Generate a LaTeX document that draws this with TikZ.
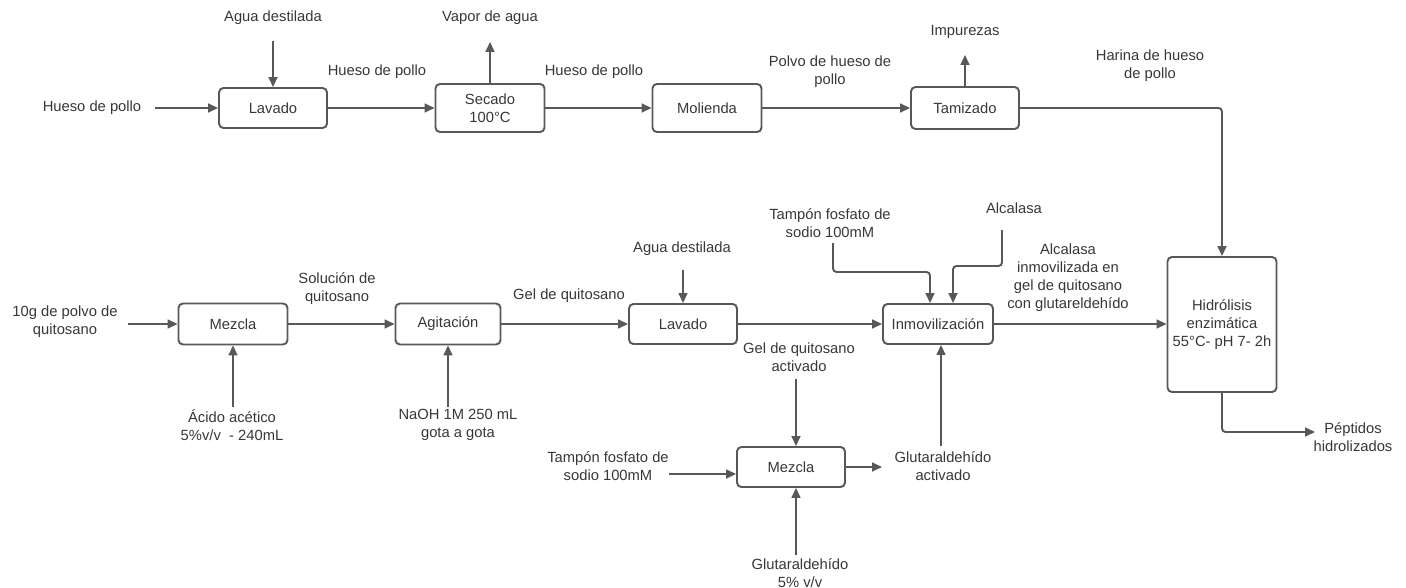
\documentclass[tikz,border=0pt]{standalone}
\usepackage{fontspec}
\setmainfont{Liberation Sans}
\usetikzlibrary{arrows.meta}
\usetikzlibrary{positioning}
\definecolor{lgray}{RGB}{88, 88, 88}
\definecolor{tgray}{RGB}{55, 55, 55}

\tikzset{
  proc/.style={draw=lgray, line width=1.1pt, rounded corners=2.5pt, minimum width=2.16cm, minimum height=0.8cm, align=center, text=tgray, inner sep=1pt},
  lbl/.style={align=center, text=tgray, inner sep=0pt},
  flow/.style={lgray, line width=1.1pt, -{Triangle[length=5.6pt, width=5pt]}, rounded corners=2pt},
}

\begin{document}
\begin{tikzpicture}[x=0.02cm, y=-0.02cm, every node/.style={font=\fontsize{8.4}{10.2}\selectfont}]
    \useasboundingbox (0, 0) rectangle (1406, 588);

    % hueso de pollo
    \node [proc] (lav1) at (273, 108) {Lavado};
    \node [proc, minimum height=0.96cm, minimum width=2.18cm] (sec) at (490, 108) {Secado\\100°C};
    \node [proc, minimum height=0.96cm, minimum width=2.18cm] (mol) at (707, 108) {Molienda};
    \node [proc, minimum height=0.84cm] (tam) at (965, 108) {Tamizado};
    \node [proc, minimum height=2.7cm, minimum width=2.18cm] (hid) at (1222, 324.5) {Hidrólisis\\enzimática\\55°C- pH 7- 2h};

    \node [lbl] (hueso) at (92, 108) {Hueso de pollo};
    \node [lbl] (agua1) at (273, 18) {Agua destilada};
    \node [lbl] (hueso2) at (377, 72) {Hueso de pollo};
    \node [lbl] (vapor) at (490, 18) {Vapor de agua};
    \node [lbl] (hueso3) at (594, 72) {Hueso de pollo};
    \node [lbl] (polvo) at (830, 72) {Polvo de hueso de\\pollo};
    \node [lbl] (impur) at (965, 32) {Impurezas};
    \node [lbl] (harina) at (1150, 66) {Harina de hueso\\de pollo};

    \coordinate (hin) at (155, 108);
    \coordinate (ain) at (273, 41);
    \coordinate (vout) at (490, 42);
    \coordinate (iout) at (965, 55);

    \draw [flow] (hin) -- (lav1.west);
    \draw [flow] (ain) -- (lav1.north);
    \draw [flow] (lav1.east) -- (sec.west);
    \draw [flow] (sec.north) -- (vout);
    \draw [flow] (sec.east) -- (mol.west);
    \draw [flow] (mol.east) -- (tam.west);
    \draw [flow] (tam.north) -- (iout);
    \draw [flow] (tam.east) -| (hid.north);

    % quitosano
    \node [proc, minimum height=0.82cm, minimum width=2.18cm] (mez1) at (233, 324) {Mezcla};
    \node [proc, minimum height=0.82cm, minimum width=2.1cm] (agi) at (448, 324) {Agitación};
    \node [proc] (lav2) at (683, 324) {Lavado};
    \node [proc, minimum width=2.2cm] (inm) at (938, 324) {Inmovilización};
    \node [proc] (mez2) at (791, 467) {Mezcla};

    \node [lbl] (quito) at (65, 322) {10g de polvo de\\quitosano};
    \node [lbl] (sol) at (337, 289) {Solución de\\quitosano};
    \node [lbl] (acido) at (232, 425) {Ácido acético\\5\%v/v \ - 240mL};
    \node [lbl] (naoh) at (458, 425) {NaOH 1M 250 mL\\gota a gota};
    \node [lbl] (gel) at (569, 296) {Gel de quitosano};
    \node [lbl] (agua2) at (682, 249) {Agua destilada};
    \node [lbl] (tamp1) at (830, 223) {Tampón fosfato de\\sodio 100mM};
    \node [lbl] (alca) at (1014, 208) {Alcalasa};
    \node [lbl] (inmlbl) at (1068, 278) {Alcalasa\\inmovilizada en\\gel de quitosano\\con glutareldehído};
    \node [lbl] (pept) at (1353, 437) {Péptidos\\hidrolizados};
    \node [lbl] (gelact) at (799, 357) {Gel de quitosano\\activado};
    \node [lbl] (tamp2) at (608, 466) {Tampón fosfato de\\sodio 100mM};
    \node [lbl] (glut) at (800, 573) {Glutaraldehído\\5\% v/v};
    \node [lbl] (glutact) at (943, 466) {Glutaraldehído\\activado};

    \coordinate (qin) at (128, 324);
    \coordinate (acin) at (233, 407);
    \coordinate (nain) at (448, 407);
    \coordinate (a2in) at (683, 270);
    \coordinate (tp1) at (833, 243);
    \coordinate (tk1) at (930, 272);
    \coordinate (al) at (1002, 230);
    \coordinate (ak) at (953, 266);
    \coordinate (pout) at (1315, 432);
    \coordinate (gain) at (796, 379);
    \coordinate (tp2) at (669, 474);
    \coordinate (glin) at (796, 555);
    \coordinate (gout) at (882, 467);
    \coordinate (gain2) at (941, 446);

    \draw [flow] (qin) -- (mez1.west);
    \draw [flow] (acin) -- (acin |- mez1.south);
    \draw [flow] (mez1.east) -- (agi.west);
    \draw [flow] (nain) -- (nain |- agi.south);
    \draw [flow] (agi.east) -- (lav2.west);
    \draw [flow] (a2in) -- (lav2.north);
    \draw [flow] (lav2.east) -- (inm.west);
    \draw [flow] (tp1) |- (tk1) -- (tk1 |- inm.north);
    \draw [flow] (al) |- (ak) -- (ak |- inm.north);
    \draw [flow] (inm.east) -- (inm.east -| hid.west);
    \draw [flow] (hid.south) |- (pout);

    \draw [flow] (gain) -- (gain |- mez2.north);
    \draw [flow] (tp2) -- (tp2 -| mez2.west);
    \draw [flow] (glin) -- (glin |- mez2.south);
    \draw [flow] (mez2.east) -- (gout);
    \draw [flow] (gain2) -- (gain2 |- inm.south);
\end{tikzpicture}
\end{document}
